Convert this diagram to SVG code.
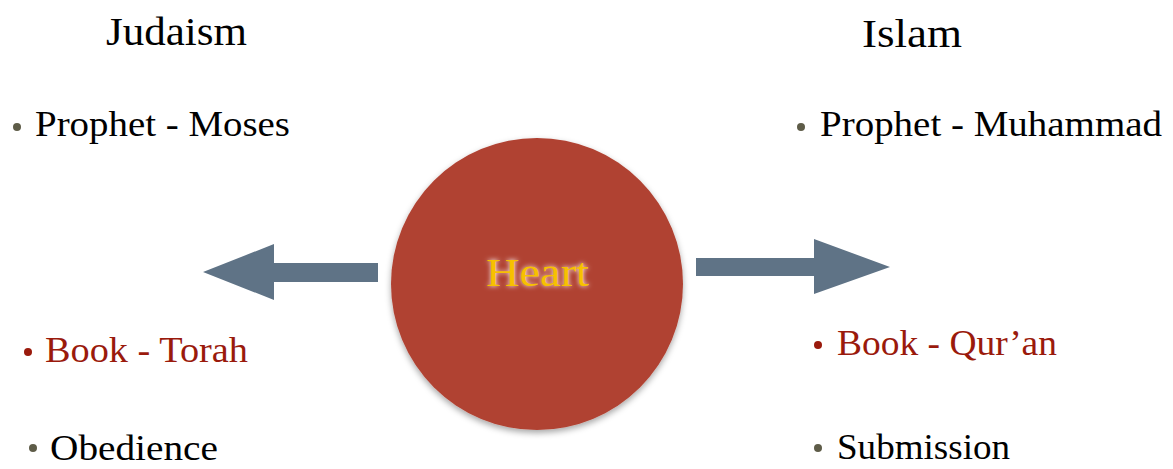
<svg xmlns="http://www.w3.org/2000/svg" width="1173" height="469" viewBox="0 0 1173 469">
<style>
.t{font-family:"Liberation Serif","DejaVu Serif",serif;font-size:36px;fill:#000}
.h{font-size:40px}
.red{fill:#9a1a0c}
.bul{fill:#5e5c48}
.bulr{fill:#9a1a0c}
.arrow{fill:#5f7386}
</style>
<defs>
<filter id="sh" x="-10%" y="-10%" width="120%" height="125%">
<feDropShadow dx="0" dy="3" stdDeviation="3" flood-color="#000" flood-opacity="0.35"/>
</filter>
<filter id="glow" x="-20%" y="-40%" width="140%" height="180%">
<feGaussianBlur stdDeviation="2.5"/>
</filter>
</defs>
<rect width="1173" height="469" fill="#fff"/>
<g id="judaism">
<text class="t h" x="106" y="45" textLength="141" lengthAdjust="spacingAndGlyphs">Judaism</text>
</g>
<g id="islam">
<text class="t h" x="862" y="47" textLength="100" lengthAdjust="spacingAndGlyphs">Islam</text>
</g>
<g id="prophet-moses">
<circle class="bul" cx="17" cy="127" r="4"/>
<text class="t" x="35" y="136" textLength="255" lengthAdjust="spacingAndGlyphs">Prophet - Moses</text>
</g>
<g id="prophet-muhammad">
<circle class="bul" cx="801" cy="127" r="4"/>
<text class="t" x="820" y="136" textLength="342" lengthAdjust="spacingAndGlyphs">Prophet - Muhammad</text>
</g>
<g id="book-torah">
<circle class="bulr" cx="28" cy="352" r="4"/>
<text class="t red" x="45" y="362" textLength="203" lengthAdjust="spacingAndGlyphs">Book - Torah</text>
</g>
<g id="book-quran">
<circle class="bulr" cx="818" cy="345" r="4"/>
<text class="t red" x="837" y="355" textLength="220" lengthAdjust="spacingAndGlyphs">Book - Qur’an</text>
</g>
<g id="obedience">
<circle class="bul" cx="33" cy="448" r="4"/>
<text class="t" x="50" y="460" textLength="168" lengthAdjust="spacingAndGlyphs">Obedience</text>
</g>
<g id="submission">
<circle class="bul" cx="818" cy="448" r="4"/>
<text class="t" x="837" y="459" textLength="173" lengthAdjust="spacingAndGlyphs">Submission</text>
</g>
<g id="heart">
<circle cx="537" cy="284" r="146" fill="#b04232" filter="url(#sh)"/>
<text class="t" x="486" y="286" textLength="103" lengthAdjust="spacingAndGlyphs" style="font-size:40px;fill:#ffffff" filter="url(#glow)">Heart</text>
<text class="t" x="486" y="286" textLength="103" lengthAdjust="spacingAndGlyphs" style="font-size:40px;fill:#f7c000">Heart</text>
</g>
<g id="connectors">
<polygon class="arrow" points="378,263 274,263 274,244 203,272 274,300 274,282 378,282"/>
<polygon class="arrow" points="696,258 814,258 814,239 890,267 814,294 814,276 696,276"/>
</g>
</svg>
